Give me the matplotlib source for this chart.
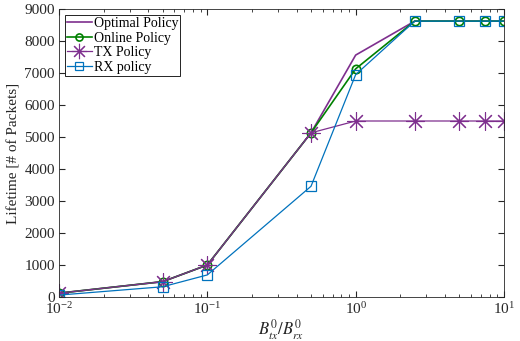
import matplotlib
matplotlib.use("Agg")
import matplotlib.pyplot as plt
import numpy as np

x = [0.01, 0.05, 0.1, 0.5, 1, 2.5, 5, 7.5, 10]
optimal = [120, 480, 1000, 5130, 7560, 8620, 8620, 8620, 8620]
online = [120, 480, 1000, 5130, 7130, 8620, 8620, 8620, 8620]
tx = [120, 480, 1000, 5130, 5500, 5500, 5500, 5500, 5500]
rx = [60, 320, 690, 3460, 6950, 8620, 8620, 8620, 8620]

plt.rcParams['font.family'] = ['Liberation Serif', 'DejaVu Serif']
plt.rcParams['mathtext.fontset'] = 'stix'
plt.rcParams['font.size'] = 11

purple = (0.494, 0.184, 0.556)
green = (0.0, 0.5, 0.0)
blue = (0.0, 0.447, 0.741)

fig = plt.figure(figsize=(5.2, 3.41), dpi=100)
ax = fig.add_axes([59/520, 1-297/341, (504-59)/520, (297-9)/341])

ax.plot(x, optimal, color=purple, lw=1.2, label='Optimal Policy')
ax.plot(x, online, color=green, lw=1.2, marker='o', ms=6, mfc='none', mew=1.2, label='Online Policy')
ax.plot(x, tx, color=purple, lw=0.9, marker=(8, 2, 0), ms=13, mew=0.8, label='TX Policy')
ax.plot(x, rx, color=blue, lw=0.9, marker='s', ms=7, mfc='none', mew=0.9, label='RX policy')

ax.set_xscale('log')
ax.set_xlim(0.01, 10)
ax.set_ylim(0, 9000)
ax.set_yticks(np.arange(0, 9001, 1000))
ax.tick_params(which='both', direction='in', top=True, right=True, colors='#262626',
               labelcolor='#262626', labelsize=11, pad=3)
ax.tick_params(which='major', length=4)
ax.tick_params(which='minor', length=2)
for s in ax.spines.values():
    s.set_color('#262626')
    s.set_linewidth(0.6)

ax.set_xlabel(r'$B^0_{tx}/B^0_{rx}$', fontsize=12, color='#262626', labelpad=0)
ax.set_ylabel('Lifetime [# of Packets]', fontsize=11, color='#262626', labelpad=3)

leg = ax.legend(loc='upper left', fancybox=False, edgecolor='black', framealpha=1,
                borderpad=0.15, labelspacing=0.1, handlelength=1.75, handletextpad=0.15,
                borderaxespad=0.45, fontsize=10, markerscale=0.85)
leg.get_frame().set_linewidth(0.6)

fig.savefig('out.png', dpi=100)
